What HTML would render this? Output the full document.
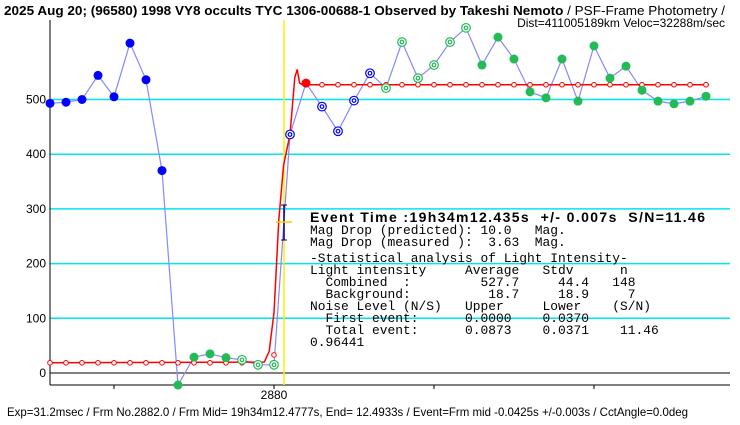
<!DOCTYPE html>
<html><head><meta charset="utf-8"><style>
html,body{margin:0;padding:0;background:#fff;}
svg{display:block;font-family:"Liberation Sans",sans-serif;}
.mono{font-family:"Liberation Mono",monospace;font-size:13px;}
</style></head><body>
<svg id="chart" width="740" height="425" viewBox="0 0 740 425">
<text x="4" y="15" font-size="13" font-weight="bold" textLength="721" lengthAdjust="spacingAndGlyphs">2025 Aug 20; (96580) 1998 VY8 occults TYC 1306-00688-1 Observed by Takeshi Nemoto <tspan font-weight="normal">/ PSF-Frame Photometry /</tspan></text>
<text x="725" y="27" font-size="12" text-anchor="end">Dist=411005189km Veloc=32288m/sec</text>
<g id="grid"></g>
<line x1="50" y1="20" x2="50" y2="385" stroke="#000"/>
<line x1="50" y1="385" x2="730" y2="385" stroke="#000"/>
<line x1="50" y1="373" x2="730" y2="373" stroke="#000"/>
<g id="xticks"></g>
<line x1="284" y1="20" x2="284" y2="385" stroke="#ffee00" stroke-width="1.5"/>
<g id="series"></g>
<g>
<line x1="284" y1="205" x2="284" y2="240" stroke="#000080" stroke-width="1.5"/>
<line x1="281" y1="205" x2="287" y2="205" stroke="#000080"/>
<line x1="281" y1="240" x2="287" y2="240" stroke="#000080"/>
<line x1="276" y1="222" x2="292" y2="222" stroke="#ffcc00" stroke-width="1.5"/>
</g>
<text x="310" y="222" font-size="14" font-weight="bold" textLength="395" lengthAdjust="spacing" xml:space="preserve">Event Time :19h34m12.435s  +/- 0.007s  S/N=11.46</text>
<g id="stats" class="mono"></g>
<text x="7" y="416" font-size="12" textLength="681" lengthAdjust="spacingAndGlyphs">Exp=31.2msec / Frm No.2882.0 / Frm Mid= 19h34m12.4777s,  End= 12.4933s / Event=Frm mid -0.0425s +/-0.003s / CctAngle=0.0deg</text>
</svg>
<script>
const frames=[2866,2867,2868,2869,2870,2871,2872,2873,2874,2875,2876,2877,2878,2879,2880,2881,2882,2883,2884,2885,2886,2887,2888,2889,2890,2891,2892,2893,2894,2895,2896,2897,2898,2899,2900,2901,2902,2903,2904,2905,2906,2907];
const values=[493,495,500,544,505,603,536,370,-22,29,35,28,24,15,15,436,530,487,442,498,548,521,605,539,563,605,631,563,614,574,514,503,574,497,598,539,561,517,497,492,497,506];
const markerTypes=['bf','bf','bf','bf','bf','bf','bf','bf','gf','gf','gf','gf','gr','gr','gr','br','rf','br','br','br','br','gr','gr','gr','gr','gr','gr','gf','gf','gf','gf','gf','gf','gf','gf','gf','gf','gf','gf','gf','gf','gf'];
const modelFrames=[2866,2879.4,2879.7,2880.0,2880.3,2880.6,2881.0,2881.3,2881.45,2881.6,2881.8,2907.2];
const modelValues=[18.7,20,40,110,280,380,436,540,555,530,527,527];
const modelDotFrames=[2866,2867,2868,2869,2870,2871,2872,2873,2874,2875,2876,2877,2878,2879,2880,2883,2884,2885,2886,2887,2888,2889,2890,2891,2892,2893,2894,2895,2896,2897,2898,2899,2900,2901,2902,2903,2904,2905,2906,2907];
const modelDotValues=[18.7,18.7,18.7,18.7,18.7,18.7,18.7,18.7,18.7,18.7,18.7,18.7,18.7,18.7,33,527,527,527,527,527,527,527,527,527,527,527,527,527,527,527,527,527,527,527,527,527,527,527,527,527];
const yTicks=[0,100,200,300,400,500];
const xTickFrames=[2870,2880,2890,2900];
const xTickLabels=['','2880','',''];
const NS='http://www.w3.org/2000/svg';
const X=f=>50+(f-2866)*16;
const Y=v=>373-0.547*v;
function mk(t,a,p){const e=document.createElementNS(NS,t);for(const k in a)e.setAttribute(k,a[k]);p.appendChild(e);return e;}
const grid=document.getElementById('grid');
yTicks.forEach(v=>{
 if(v>0){const l=mk('line',{x1:50,x2:730,y1:Y(v),y2:Y(v),stroke:'#00e5ee','stroke-width':1.5},grid);
 
 }
 const t=mk('text',{x:46,y:Y(v)+4,'font-size':12,'text-anchor':'end'},grid);t.textContent=v;
 
 
});
const xt=document.getElementById('xticks');
xTickFrames.forEach((f,i)=>{
 const l=mk('line',{x1:X(f),x2:X(f),y1:385,y2:389,stroke:'#000'},xt);
 
 
 if(xTickLabels[i]){const t=mk('text',{x:X(f),y:399,'font-size':12,'text-anchor':'middle'},xt);t.textContent=xTickLabels[i];
 
 }
});
const s=document.getElementById('series');
const obs=mk('polyline',{points:frames.map((f,i)=>X(f)+','+Y(values[i])).join(' '),fill:'none',stroke:'#8888ff','stroke-width':1.2},s);


const model=mk('polyline',{points:modelFrames.map((f,i)=>X(f)+','+Y(modelValues[i])).join(' '),fill:'none',stroke:'#ff0000','stroke-width':1.5},s);


modelDotFrames.forEach((f,i)=>{
 const c=mk('circle',{cx:X(f),cy:Y(modelDotValues[i]),r:2.3,fill:'#fff',stroke:'#ff0000','stroke-width':1},s);
 
 
});
frames.forEach((f,i)=>{
 const t=markerTypes[i],x=X(f),y=Y(values[i]);
 const col=t[0]=='b'?'#0000ff':t[0]=='g'?'#22bb55':'#ff0000';
 let c;
 if(t[1]=='f'){c=mk('circle',{cx:x,cy:y,r:4.5,fill:col},s);}
 else{c=mk('g',{},s);mk('circle',{cx:x,cy:y,r:4.3,fill:'#fff',stroke:col,'stroke-width':1.2},c);mk('circle',{cx:x,cy:y,r:1.8,fill:'none',stroke:col,'stroke-width':1.2},c);}
 
 
});
const lines=[
['Mag Drop (predicted): 10.0   Mag.',234],
['Mag Drop (measured ):  3.63  Mag.',246],
['-Statistical analysis of Light Intensity-',262],
['Light intensity     Average   Stdv      n',274],
['  Combined  :         527.7     44.4   148',286],
['  Background:          18.7     18.9     7',298],
['Noise Level (N/S)   Upper     Lower    (S/N)',310],
['  First event:      0.0000    0.0370',322],
['  Total event:      0.0873    0.0371    11.46',334],
['0.96441',346]];
const st=document.getElementById('stats');
lines.forEach(([txt,y])=>{
 const t=mk('text',{x:310,y:y},st);
 t.setAttribute('xml:space','preserve');
 t.style.whiteSpace='pre';
 t.textContent=txt;
 t.setAttribute('textLength',txt.length*7.75);
 t.setAttribute('lengthAdjust','spacingAndGlyphs');
 
 
});
</script>
</body></html>
